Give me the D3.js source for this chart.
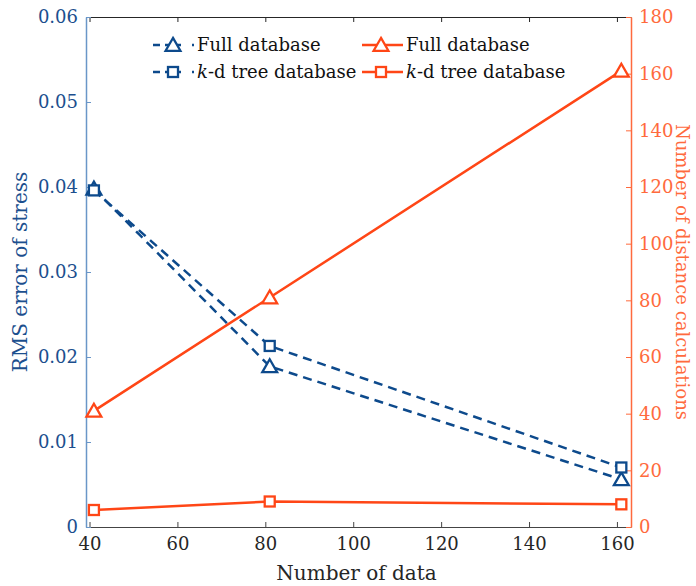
<!DOCTYPE html>
<html>
<head>
<meta charset="utf-8">
<script src="https://cdn.jsdelivr.net/npm/d3@7"></script>
<style>
  html, body { margin: 0; padding: 0; background: #fff; }
</style>
</head>
<body>
<svg id="chart" width="696" height="586"></svg>
<script>
// Number of data points in each database
const nData = [41, 81, 161];
// RMS error of stress (left axis)
const rmsFull = [0.0398, 0.0189, 0.0056];
const rmsKd   = [0.0396, 0.0213, 0.0070];
// Number of distance calculations (right axis)
const calcFull = [41, 81, 161];
const calcKd   = [6, 9, 8];
// Tick labels
const xTicks = [40, 60, 80, 100, 120, 140, 160];
const yLeftTicks = [0, 0.01, 0.02, 0.03, 0.04, 0.05, 0.06];
const yRightTicks = [0, 20, 40, 60, 80, 100, 120, 140, 160, 180];

const FONT = "DejaVu Serif";
const blue = "#0d4a8c";
const blueAxis = "#6a96c8";
const blueText = "#1c4f8e";
const orange = "#ff4616";
const orangeAxis = "#ff6a3d";
const gray = "#262626";

const svg = d3.select("#chart");
const L = 86, R = 631, T = 17, B = 527;

const x = d3.scaleLinear().domain([39.2, 163.2]).range([L, R]);
const yL = d3.scaleLinear().domain([0, 0.06]).range([B, T]);
const yR = d3.scaleLinear().domain([0, 180]).range([B, T]);

function styleText(sel, color, size) {
  return sel.attr("fill", color).attr("font-size", size || 18).attr("font-family", FONT);
}

// bottom axis
const gx = svg.append("g").attr("transform", `translate(0,${B})`)
  .call(d3.axisBottom(x).tickValues(xTicks).tickFormat(d3.format("d")).tickSizeInner(-5).tickSizeOuter(0).tickPadding(10));
gx.select(".domain").attr("stroke", "#444").attr("stroke-width", 1.2);
gx.selectAll(".tick line").attr("stroke", "#444");
styleText(gx.selectAll(".tick text"), gray);

// top border with ticks
const gt = svg.append("g").attr("transform", `translate(0,${T})`)
  .call(d3.axisTop(x).tickValues(xTicks).tickFormat("").tickSizeInner(-5).tickSizeOuter(0));
gt.select(".domain").attr("stroke", gray).attr("stroke-width", 1.2);
gt.selectAll(".tick line").attr("stroke", gray);

// left axis
const gl = svg.append("g").attr("transform", `translate(${L},0)`)
  .call(d3.axisLeft(yL).tickValues(yLeftTicks).tickFormat(d => d === 0 ? "0" : d3.format(".2f")(d)).tickSizeInner(-5).tickSizeOuter(0).tickPadding(8));
gl.select(".domain").attr("stroke", blueAxis).attr("stroke-width", 1.5);
gl.selectAll(".tick line").attr("stroke", blueAxis);
styleText(gl.selectAll(".tick text"), blueText);

// right axis
const gr = svg.append("g").attr("transform", `translate(${R},0)`)
  .call(d3.axisRight(yR).tickValues(yRightTicks).tickFormat(d3.format("d")).tickSizeInner(-5).tickSizeOuter(0).tickPadding(8));
gr.select(".domain").attr("stroke", orangeAxis).attr("stroke-width", 1.5);
gr.selectAll(".tick line").attr("stroke", orangeAxis);
styleText(gr.selectAll(".tick text"), orangeAxis);

// axis titles
styleText(svg.append("text").attr("x", (L + R) / 2 - 2).attr("y", 580).attr("text-anchor", "middle")
  .text("Number of data"), gray, 20);
styleText(svg.append("text").attr("transform", `translate(27,${(T + B) / 2}) rotate(-90)`).attr("text-anchor", "middle")
  .text("RMS error of stress"), blueText, 20);
styleText(svg.append("text").attr("transform", `translate(676,${(T + B) / 2}) rotate(90)`).attr("text-anchor", "middle")
  .text("Number of distance calculations"), orangeAxis, 18);

const triPath = d3.symbol().type(d3.symbolTriangle).size(95)();
const sqSize = 10;

function drawSeries(vals, yScale, color, dashed, marker) {
  const pts = nData.map((n, i) => [x(n), yScale(vals[i])]);
  svg.append("path").attr("d", d3.line()(pts)).attr("fill", "none")
    .attr("stroke", color).attr("stroke-width", 2.5)
    .attr("stroke-dasharray", dashed ? "9,6" : null);
  const g = svg.append("g");
  pts.forEach(p => drawMarker(g, p[0], p[1], color, marker));
}

function drawMarker(g, cx, cy, color, marker) {
  if (marker === "tri") {
    g.append("path").attr("d", triPath).attr("transform", `translate(${cx},${cy + 1.5})`)
      .attr("fill", "#fff").attr("stroke", color).attr("stroke-width", 2.3);
  } else {
    g.append("rect").attr("x", cx - sqSize / 2).attr("y", cy - sqSize / 2)
      .attr("width", sqSize).attr("height", sqSize)
      .attr("fill", "#fff").attr("stroke", color).attr("stroke-width", 2.3);
  }
}

drawSeries(calcFull, yR, orange, false, "tri");
drawSeries(calcKd, yR, orange, false, "sq");
drawSeries(rmsFull, yL, blue, true, "tri");
drawSeries(rmsKd, yL, blue, true, "sq");

// legend
const legendRows = [
  { label: "Full database", marker: "tri" },
  { label: "k-d tree database", marker: "sq" }
];
const rowY = [45, 72];
const legendCols = [
  { color: blue, dash: "7,5,16,11,2", x0: 153, x1: 194, mx: 173, tx: 197 },
  { color: orange, dash: null, x0: 362, x1: 403, mx: 381, tx: 406 }
];
const lg = svg.append("g");
legendCols.forEach(c => {
  legendRows.forEach((r, i) => {
    const y = rowY[i];
    lg.append("line").attr("x1", c.x0).attr("x2", c.x1).attr("y1", y).attr("y2", y)
      .attr("stroke", c.color).attr("stroke-width", 2.5)
      .attr("stroke-dasharray", c.dash);
    drawMarker(lg, c.mx, y, c.color, r.marker);
    const t = styleText(lg.append("text").attr("x", c.tx).attr("y", y + 6), "#111", 18);
    if (r.label.startsWith("k-")) {
      t.append("tspan").attr("font-style", "italic").text("k");
      t.append("tspan").text(r.label.slice(1));
    } else {
      t.text(r.label);
    }
  });
});
</script>
</body>
</html>
